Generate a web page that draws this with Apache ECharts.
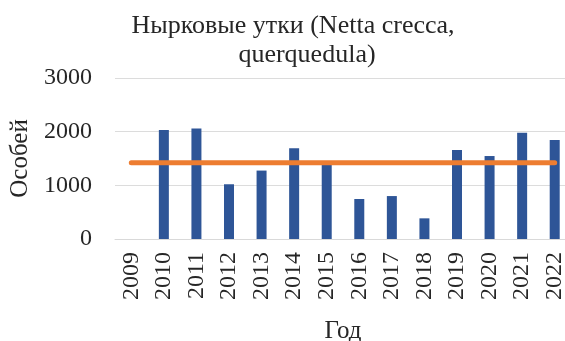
<!DOCTYPE html>
<html>
<head>
<meta charset="utf-8">
<script src="https://cdn.jsdelivr.net/npm/echarts@6/dist/echarts.min.js"></script>
<style>
html,body{margin:0;padding:0;background:#fff;}
#chart{width:565px;height:341px;}
</style>
</head>
<body>
<div id="chart"></div>
<script>
var years = ['2009','2010','2011','2012','2013','2014','2015','2016','2017','2018','2019','2020','2021','2022'];
var counts = [0, 2030, 2060, 1020, 1275, 1690, 1395, 745, 800, 385, 1660, 1546, 1980, 1845];
var meanLine = [1420, 1420, 1420, 1420, 1420, 1420, 1420, 1420, 1420, 1420, 1420, 1420, 1420, 1420];
var yTicks = [0, 1000, 2000, 3000];

var FONT = '"Liberation Serif", "DejaVu Serif", serif';
var chart = echarts.init(document.getElementById('chart'));
chart.setOption({
  animation: false,
  backgroundColor: '#ffffff',
  title: [
    {text: 'Нырковые утки (Netta crecca,', left: 288, top: 8, textAlign: 'center',
     textStyle: {fontFamily: FONT, fontSize: 26, fontWeight: 'normal', color: '#262626'}},
    {text: 'querquedula)', left: 302, top: 37, textAlign: 'center',
     textStyle: {fontFamily: FONT, fontSize: 26, fontWeight: 'normal', color: '#262626'}}
  ],
  grid: {left: 115, top: 78, width: 456, bottom: 102, containLabel: false, outerBoundsMode: 'none'},
  xAxis: {
    type: 'category',
    data: years,
    boundaryGap: true,
    name: 'Год',
    nameLocation: 'middle',
    nameGap: 80,
    nameTextStyle: {fontFamily: FONT, fontSize: 25, color: '#262626'},
    axisLine: {show: true, lineStyle: {color: '#d9d9d9', width: 1}},
    axisTick: {show: false},
    axisLabel: {rotate: 90, margin: 13, fontFamily: FONT, fontSize: 24, color: '#262626'}
  },
  yAxis: {
    type: 'value',
    min: yTicks[0],
    max: yTicks[yTicks.length - 1],
    interval: 1000,
    name: 'Особей',
    nameLocation: 'middle',
    nameGap: 78,
    nameTextStyle: {fontFamily: FONT, fontSize: 25, color: '#262626'},
    axisLine: {show: false},
    axisTick: {show: false},
    splitLine: {lineStyle: {color: '#dcdcdc', width: 1}},
    axisLabel: {margin: 23, fontFamily: FONT, fontSize: 24, color: '#262626',
      formatter: function (v) { return String(v); }}
  },
  series: [
    {
      type: 'bar',
      data: counts,
      barWidth: 10,
      itemStyle: {color: '#2e5597'}
    },
    {
      type: 'line',
      data: meanLine,
      symbol: 'none',
      lineStyle: {color: '#ed7d31', width: 5, cap: 'round'},
      z: 3
    }
  ]
});
</script>
</body>
</html>
